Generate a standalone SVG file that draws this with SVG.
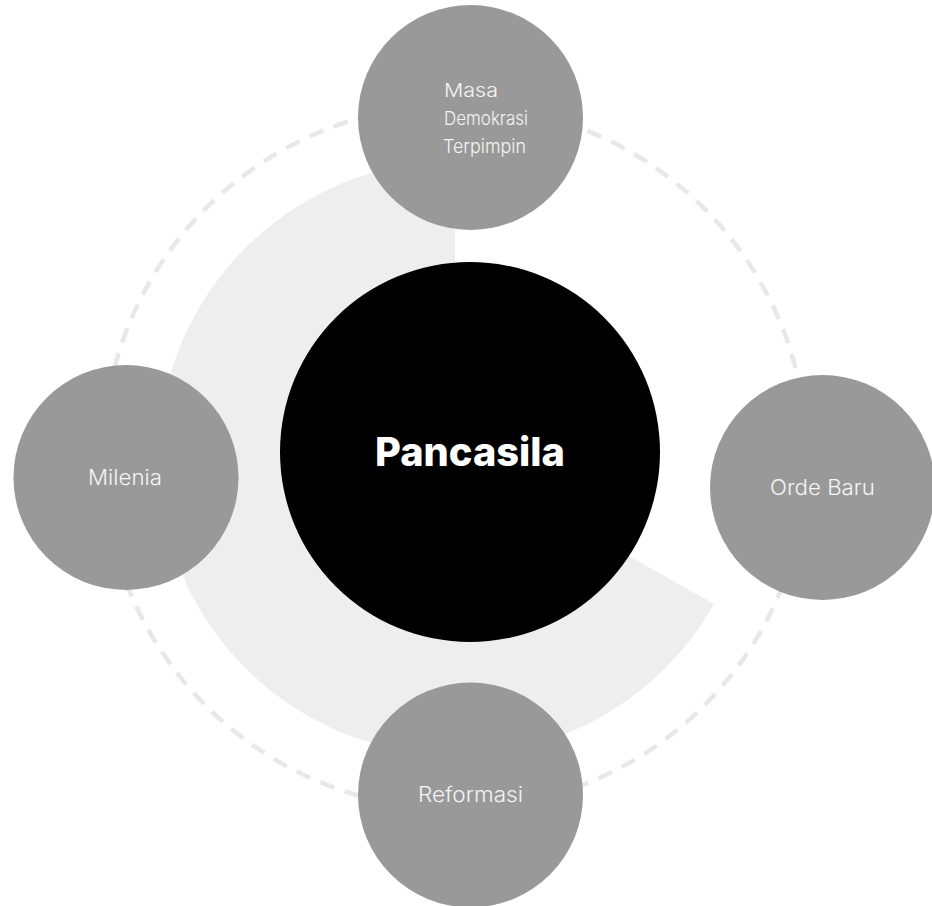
<svg xmlns="http://www.w3.org/2000/svg" width="932" height="906" viewBox="0 0 932 906">
  <style>
    .sat { fill: #999999; }
    .lbl { font-family: Inter, "Open Sans", "Liberation Sans", sans-serif; font-weight: 300; font-size: 21px; fill: #f4f4f4; text-anchor: middle; }
    .sm { font-size: 18.5px; text-anchor: start; }
    .title { font-family: Inter, "Liberation Sans", sans-serif; font-weight: 800; font-size: 40px; fill: #ffffff; text-anchor: middle; }
  </style>
  <rect width="932" height="906" fill="#ffffff"/>
  <g id="connectors">
    <circle cx="455" cy="457" r="352" fill="none" stroke="#e8e8e8" stroke-width="4.5" stroke-dasharray="15 11"/>
  </g>
  <g id="sector">
    <path d="M455,458 L455,161 A297,297 0 1,0 714,604 Z" fill="#eeeeee"/>
  </g>
  <g id="pancasila">
    <circle cx="470" cy="452" r="190" fill="#000000"/>
    <text class="title" x="470" y="466" textLength="190" lengthAdjust="spacingAndGlyphs">Pancasila</text>
  </g>
  <g id="masa-demokrasi-terpimpin">
    <circle class="sat" cx="470.5" cy="117.5" r="112.5"/>
    <text class="lbl sm" x="444" y="97" textLength="54" lengthAdjust="spacingAndGlyphs">Masa</text>
    <text class="lbl sm" x="444" y="125" textLength="84" lengthAdjust="spacingAndGlyphs">Demokrasi</text>
    <text class="lbl sm" x="443" y="153" textLength="83" lengthAdjust="spacingAndGlyphs">Terpimpin</text>
  </g>
  <g id="milenia">
    <circle class="sat" cx="126" cy="477.5" r="112.5"/>
    <text class="lbl" x="125" y="485" textLength="74" lengthAdjust="spacingAndGlyphs">Milenia</text>
  </g>
  <g id="orde-baru">
    <circle class="sat" cx="822.5" cy="487.5" r="112.5"/>
    <text class="lbl" x="822.5" y="495" textLength="105" lengthAdjust="spacingAndGlyphs">Orde Baru</text>
  </g>
  <g id="reformasi">
    <circle class="sat" cx="470.5" cy="795" r="112.5"/>
    <text class="lbl" x="470.5" y="802" textLength="105" lengthAdjust="spacingAndGlyphs">Reformasi</text>
  </g>
</svg>
